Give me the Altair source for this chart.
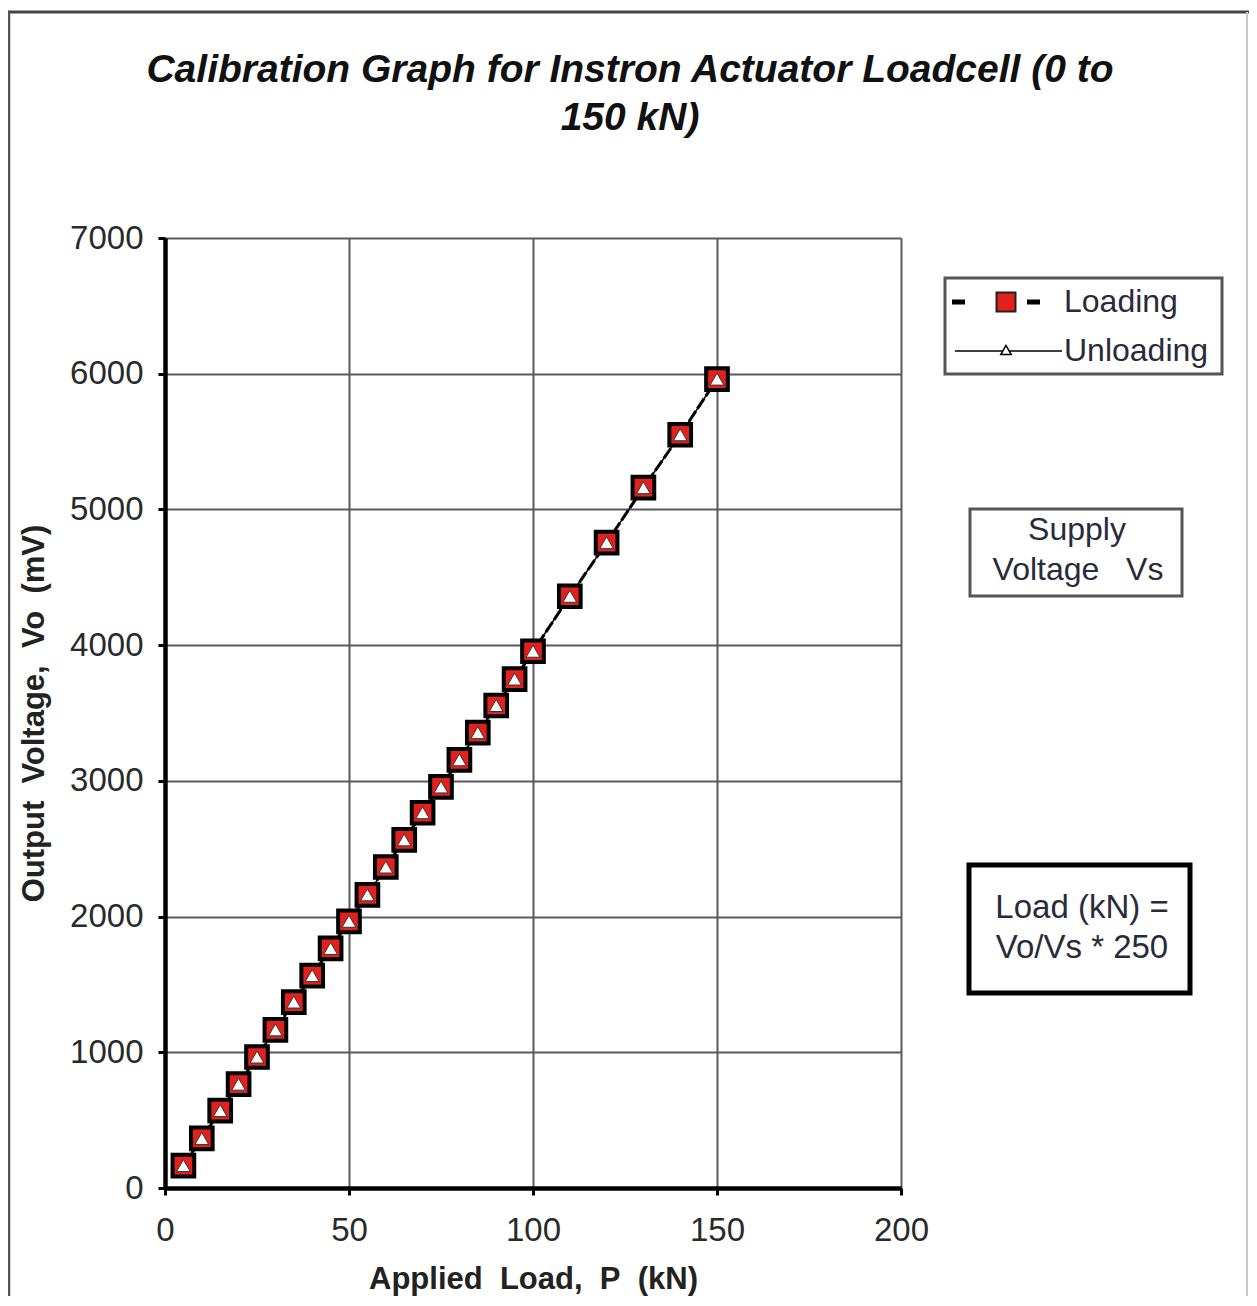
import altair as alt
import pandas as pd

# ---- data ----
load_kn = [5, 10, 15, 20, 25, 30, 35, 40, 45, 50, 55, 60, 65, 70, 75, 80, 85, 90, 95, 100,
           110, 120, 130, 140, 150]
loading_mv = [165, 365, 570, 765, 965, 1165, 1370, 1565, 1765, 1965, 2160, 2365, 2565, 2765,
              2955, 3155, 3355, 3555, 3750, 3955, 4360, 4755, 5160, 5550, 5960]
unloading_mv = [165, 365, 570, 765, 965, 1165, 1370, 1565, 1765, 1965, 2160, 2365, 2565, 2765,
                2955, 3155, 3355, 3555, 3750, 3955, 4360, 4755, 5160, 5550, 5960]
x_ticks = [0, 50, 100, 150, 200]
y_ticks = [0, 1000, 2000, 3000, 4000, 5000, 6000, 7000]

NB = "\u00a0"
title_lines = ["Calibration Graph for Instron Actuator Loadcell (0 to", "150 kN)"]
series_names = ["Loading", "Unloading"]
box1_lines = ["Supply", "Voltage" + NB * 3 + "Vs"]
box2_lines = ["Load (kN) =", "Vo/Vs * 250"]
x_title = "Applied" + NB * 2 + "Load," + NB * 2 + "P" + NB * 2 + "(kN)"
y_title = "Output" + NB * 2 + "Voltage," + NB * 2 + "Vo" + NB * 2 + "(mV)"

FONT = "Liberation Sans"
W, H = 736, 950

df_load = pd.DataFrame({"P": load_kn, "Vo": loading_mv})
df_unload = pd.DataFrame({"P": load_kn, "Vo": unloading_mv})
one = pd.DataFrame({"a": [0]})

xs = alt.Scale(domain=[0, 200], nice=False)
ys = alt.Scale(domain=[0, 7000], nice=False)
xenc = alt.X("P:Q", scale=xs, title=x_title,
             axis=alt.Axis(values=x_ticks, format="d", labelFlush=False))
yenc = alt.Y("Vo:Q", scale=ys, title=y_title,
             axis=alt.Axis(values=y_ticks, format="d", labelFlush=False))

line_load = alt.Chart(df_load).mark_line(color="black", strokeWidth=3, strokeDash=[12, 3]).encode(x=xenc, y=yenc)
line_unload = alt.Chart(df_unload).mark_line(color="black", strokeWidth=1.5).encode(x=xenc, y=yenc)
pts_load = alt.Chart(df_load).mark_point(shape="square", filled=True, fill="#e3201b", stroke="black",
                                         strokeWidth=4, size=470, opacity=1).encode(x=xenc, y=yenc)
pts_unload = alt.Chart(df_unload).mark_point(shape="triangle-up", filled=True, fill="white", stroke="#333",
                                             strokeWidth=1, size=190, opacity=1).encode(x=xenc, y=yenc)

def rect(x1, x2, y1, y2, stroke, sw, fill="white"):
    return alt.Chart(one).mark_rect(fill=fill, stroke=stroke, strokeWidth=sw).encode(
        x=alt.value(x1), x2=alt.value(x2), y=alt.value(y1), y2=alt.value(y2))

def text(t, x, y, size=32, align="center", weight="normal", style="normal", color="#2a2a3a"):
    return alt.Chart(one).mark_text(text=t, font=FONT, fontSize=size, align=align, baseline="middle",
                                    fontWeight=weight, fontStyle=style, color=color).encode(
        x=alt.value(x), y=alt.value(y))

def rule(x1, x2, y1, y2, color, sw):
    return alt.Chart(one).mark_rule(color=color, strokeWidth=sw).encode(
        x=alt.value(x1), x2=alt.value(x2), y=alt.value(y1), y2=alt.value(y2))

# outer frame (top, left dark; right faint)
frame_top = rule(-157, 1084, -226, -226, "#444", 3)
frame_left = rule(-156, -156, -226, 1090, "#555", 2.5)
frame_right = rule(1082, 1082, -226, 1090, "#c8c8c8", 2)

# title
t1 = text(title_lines[0], 465, -168, size=39, weight="bold", style="italic", color="#111")
t2 = text(title_lines[1], 465, -120, size=39, weight="bold", style="italic", color="#111")

# legend
leg_box = rect(780, 1057, 40, 136, "#555", 3)
leg_dash = alt.Chart(one).mark_rule(color="black", strokeWidth=5, strokeDash=[13, 62]).encode(
    x=alt.value(787), x2=alt.value(875), y=alt.value(64))
leg_sq = alt.Chart(one).mark_point(shape="square", filled=True, fill="#e3201b", stroke="#222",
                                   strokeWidth=2, size=360, opacity=1).encode(x=alt.value(841), y=alt.value(64))
leg_line = alt.Chart(one).mark_rule(color="black", strokeWidth=1.5).encode(
    x=alt.value(790), x2=alt.value(897), y=alt.value(113))
leg_tri = alt.Chart(one).mark_point(shape="triangle-up", filled=True, fill="white", stroke="black",
                                    strokeWidth=1.5, size=110, opacity=1).encode(x=alt.value(841), y=alt.value(112))
leg_t1 = text(series_names[0], 899, 64, align="left")
leg_t2 = text(series_names[1], 899, 113, align="left")

# text boxes
b1 = rect(805, 1017, 271, 358, "#555", 3)
b1t1 = text(box1_lines[0], 912, 292)
b1t2 = text(box1_lines[1], 913, 332)
b2 = rect(804, 1025, 627, 755, "black", 5)
b2t1 = text(box2_lines[0], 917, 670, size=33)
b2t2 = text(box2_lines[1], 917, 710, size=33)

chart = alt.layer(
    frame_top, frame_left, frame_right, line_load, line_unload, pts_load, pts_unload,
    t1, t2, leg_box, leg_dash, leg_sq, leg_line, leg_tri, leg_t1, leg_t2,
    b1, b1t1, b1t2, b2, b2t1, b2t2,
).properties(
    width=W, height=H,
    autosize=alt.AutoSizeParams(type="none"),
    padding={"left": 157, "top": 230, "right": 348, "bottom": 108},
    background="white",
).configure_view(
    stroke=None
).configure_axis(
    labelFont=FONT, labelFontSize=33, labelColor="#2a2a2a",
    titleFont=FONT, titleFontSize=31, titleFontWeight="bold", titleColor="#222",
    domainColor="black", domainWidth=4.5,
    gridColor="#5a5a5a", gridWidth=2, gridOpacity=1,
    tickColor="black", tickWidth=3, tickSize=7,
).configure_axisX(
    labelPadding=19, titlePadding=17,
).configure_axisY(
    labelPadding=15, titlePadding=19,
)

chart.save("out.html", embed_options={"renderer": "svg", "actions": False})
